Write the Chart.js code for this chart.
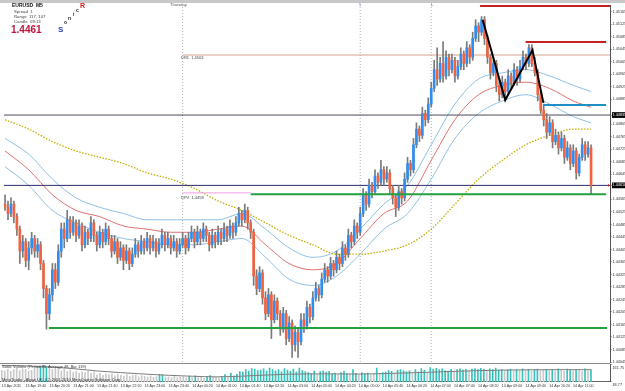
<!DOCTYPE html>
<html><head><meta charset="utf-8">
<script src="https://cdn.jsdelivr.net/npm/chart.js@4/dist/chart.umd.min.js"></script>
<style>
html,body{margin:0;padding:0;background:#fff;}
#wrap{position:relative;width:625px;height:391px;overflow:hidden;font-family:"Liberation Sans",Arial,sans-serif;background:#fff;}
.c{position:absolute;left:0;}
.t{position:absolute;white-space:nowrap;line-height:1;color:#333;}
</style></head><body>
<div id="wrap">
<div class="c" style="top:361px;width:625px;height:30px"><canvas id="vol" width="625" height="30"></canvas></div>
<div class="c" style="top:0;width:625px;height:366px"><canvas id="main" width="625" height="366"></canvas></div>
<div style="position:absolute;left:0;top:0;width:625px;height:3px;background:#c8c8c8"></div>
<div style="position:absolute;left:0;top:363px;width:610px;height:1px;background:#8a8a8a"></div>
<div style="position:absolute;left:0;top:3px;width:97px;height:38px;background:#fff"></div>
<div class="t" style="left:12px;top:3px;font-size:5px;font-weight:bold;color:#111">EURUSD&nbsp;&nbsp;M5</div>
<div class="t" style="left:14px;top:10px;font-size:4.3px;color:#444">Spread&nbsp;&nbsp;1</div>
<div class="t" style="left:14px;top:15px;font-size:4.3px;color:#444">Range&nbsp;&nbsp;117, 107</div>
<div class="t" style="left:14px;top:20px;font-size:4.3px;color:#444">Candle&nbsp;&nbsp;09:13</div>
<div class="t" style="left:11px;top:25px;font-size:10px;font-weight:bold;color:#c0143c">1.4461</div>
<div class="t" style="left:58px;top:26px;font-size:8px;font-weight:bold;color:#2a3fb8">S</div>
<div class="t" style="left:64px;top:20px;font-size:5px;font-weight:bold;color:#222">o</div>
<div class="t" style="left:68px;top:16px;font-size:5px;font-weight:bold;color:#222">n</div>
<div class="t" style="left:73px;top:12px;font-size:5px;font-weight:bold;color:#222">i</div>
<div class="t" style="left:76px;top:8px;font-size:5px;font-weight:bold;color:#222">c</div>
<div class="t" style="left:80px;top:2px;font-size:7px;font-weight:bold;color:#d82020">R</div>
<div class="t" style="left:170px;top:3px;font-size:4px;color:#555">Thursday</div>
<div class="t" style="left:359px;top:3px;font-size:4px;color:#7050a0">5</div>
<div class="t" style="left:431px;top:3px;font-size:4px;color:#333">L</div>
<div class="t" style="left:181px;top:56px;font-size:4px;color:#444">DR1&nbsp;&nbsp;1.4503</div>
<div class="t" style="left:181px;top:196px;font-size:4px;color:#444">DPV&nbsp;&nbsp;1.4458</div>
<div class="t" style="left:2px;top:365px;font-size:4px;color:#333">Sonic Volume (Period 20, Average 48, Bar 139)</div>
<div class="t" style="left:2px;top:378px;font-size:4px;color:#333">MetaTrader - Alpari UK, (C) 2001-2010 MetaQuotes Software Corp.</div>
</div>
<script>
// ---- data ----
const tickLabels = ['13 Apr 2011','13 Apr 19:40','13 Apr 20:20','13 Apr 21:00','13 Apr 21:40','13 Apr 22:20','13 Apr 23:00','13 Apr 23:40','14 Apr 00:20','14 Apr 01:00','14 Apr 01:40','14 Apr 02:20','14 Apr 03:00','14 Apr 03:40','14 Apr 04:20','14 Apr 05:00','14 Apr 05:40','14 Apr 06:20','14 Apr 07:00','14 Apr 07:40','14 Apr 08:20','14 Apr 09:00','14 Apr 09:40','14 Apr 10:20','14 Apr 11:00'];
const priceTicks = [1.45165,1.45125,1.45085,1.45045,1.45005,1.44965,1.44925,1.44885,1.44805,1.44765,1.44725,1.44685,1.44645,1.44565,1.44525,1.44485,1.44445,1.44405,1.44365,1.44325,1.44285,1.44245,1.44205,1.44165,1.44125,1.44085,1.44045];
const markedPrices = [1.44835, 1.44610];

const open = [
1.4455,1.4454,1.4452,1.4455,1.4451,1.4447,1.4440,1.4443,
1.4437,1.4441,1.4444,1.4440,1.4442,1.4436,1.4428,1.4420,
1.4426,1.4434,1.4430,1.4440,1.4447,1.4444,1.4450,1.4446,
1.4449,1.4445,1.4448,1.4442,1.4446,1.4444,1.4449,1.4445,
1.4442,1.4446,1.4443,1.4447,1.4444,1.4440,1.4443,1.4438,
1.4441,1.4437,1.4440,1.4436,1.4439,1.4442,1.4440,1.4443,
1.4441,1.4444,1.4441,1.4443,1.4440,1.4442,1.4445,1.4442,
1.4444,1.4441,1.4443,1.4440,1.4442,1.4444,1.4441,1.4444,
1.4446,1.4443,1.4446,1.4444,1.4447,1.4445,1.4442,1.4445,
1.4443,1.4446,1.4444,1.4447,1.4445,1.4448,1.4446,1.4449,
1.4452,1.4450,1.4453,1.4449,1.4446,1.4432,1.4428,1.4433,
1.4425,1.4420,1.4426,1.4418,1.4424,1.4420,1.4415,1.4420,
1.4412,1.4417,1.4410,1.4414,1.4411,1.4418,1.4416,1.4422,
1.4419,1.4425,1.4428,1.4426,1.4431,1.4434,1.4432,1.4436,
1.4434,1.4438,1.4436,1.4441,1.4439,1.4445,1.4443,1.4448,
1.4446,1.4452,1.4458,1.4455,1.4461,1.4459,1.4464,1.4462,
1.4466,1.4463,1.4465,1.4460,1.4457,1.4454,1.4459,1.4457,
1.4463,1.4468,1.4466,1.4474,1.4479,1.4477,1.4484,1.4482,
1.4487,1.4492,1.4498,1.4495,1.4500,1.4496,1.4502,1.4498,
1.4501,1.4496,1.4499,1.4503,1.4500,1.4505,1.4502,1.4508,
1.4512,1.4510,1.4514,1.4508,1.4502,1.4497,1.4500,1.4493,
1.4490,1.4494,1.4491,1.4496,1.4494,1.4498,1.4495,1.4499,
1.4502,1.4500,1.4505,1.4500,1.4497,1.4490,1.4485,1.4482,
1.4478,1.4481,1.4475,1.4477,1.4473,1.4476,1.4470,1.4473,
1.4468,1.4472,1.4465,1.4470,1.4474,1.4471,1.4473];
const high = [
1.4458,1.4456,1.4457,1.4456,1.4452,1.4448,1.4445,1.4444,
1.4443,1.4446,1.4445,1.4444,1.4443,1.4437,1.4429,1.4428,
1.4436,1.4436,1.4442,1.4449,1.4449,1.4453,1.4451,1.4451,
1.4450,1.4450,1.4449,1.4448,1.4447,1.4451,1.4450,1.4446,
1.4448,1.4447,1.4449,1.4448,1.4445,1.4445,1.4444,1.4443,
1.4442,1.4442,1.4441,1.4441,1.4444,1.4443,1.4445,1.4444,
1.4446,1.4445,1.4445,1.4444,1.4444,1.4447,1.4446,1.4446,
1.4445,1.4445,1.4444,1.4444,1.4446,1.4445,1.4446,1.4448,
1.4447,1.4448,1.4447,1.4449,1.4448,1.4446,1.4447,1.4446,
1.4448,1.4447,1.4449,1.4448,1.4450,1.4449,1.4451,1.4454,
1.4453,1.4455,1.4454,1.4450,1.4447,1.4434,1.4435,1.4434,
1.4427,1.4428,1.4427,1.4426,1.4425,1.4421,1.4422,1.4421,
1.4419,1.4418,1.4416,1.4415,1.4420,1.4420,1.4424,1.4423,
1.4427,1.4430,1.4429,1.4433,1.4436,1.4435,1.4438,1.4437,
1.4440,1.4439,1.4443,1.4442,1.4447,1.4446,1.4450,1.4449,
1.4454,1.4460,1.4459,1.4463,1.4462,1.4466,1.4465,1.4469,
1.4467,1.4467,1.4466,1.4461,1.4458,1.4461,1.4460,1.4465,
1.4470,1.4469,1.4476,1.4481,1.4480,1.4486,1.4485,1.4489,
1.4494,1.4501,1.4505,1.4502,1.4507,1.4504,1.4503,1.4503,
1.4502,1.4501,1.4505,1.4504,1.4507,1.4506,1.4510,1.4514,
1.4513,1.4515,1.4515,1.4509,1.4503,1.4502,1.4501,1.4495,
1.4496,1.4495,1.4498,1.4497,1.4500,1.4499,1.4501,1.4504,
1.4503,1.4506,1.4506,1.4502,1.4498,1.4491,1.4487,1.4484,
1.4483,1.4482,1.4479,1.4478,1.4478,1.4477,1.4475,1.4474,
1.4474,1.4473,1.4471,1.4476,1.4475,1.4475,1.4474];
const low = [
1.4453,1.4450,1.4451,1.4449,1.4445,1.4436,1.4438,1.4435,
1.4434,1.4439,1.4438,1.4438,1.4434,1.4425,1.4415,1.4418,
1.4424,1.4428,1.4429,1.4438,1.4441,1.4443,1.4444,1.4445,
1.4443,1.4444,1.4440,1.4441,1.4442,1.4443,1.4443,1.4440,
1.4441,1.4441,1.4442,1.4442,1.4438,1.4439,1.4436,1.4437,
1.4434,1.4436,1.4434,1.4435,1.4438,1.4438,1.4439,1.4439,
1.4440,1.4439,1.4440,1.4438,1.4439,1.4441,1.4440,1.4441,
1.4439,1.4440,1.4438,1.4439,1.4441,1.4439,1.4440,1.4443,
1.4441,1.4442,1.4442,1.4443,1.4443,1.4440,1.4441,1.4441,
1.4442,1.4442,1.4443,1.4443,1.4444,1.4444,1.4445,1.4448,
1.4448,1.4449,1.4447,1.4444,1.4429,1.4426,1.4427,1.4423,
1.4418,1.4419,1.4412,1.4417,1.4418,1.4413,1.4414,1.4410,
1.4411,1.4406,1.4408,1.4406,1.4410,1.4414,1.4415,1.4417,
1.4418,1.4424,1.4424,1.4425,1.4430,1.4430,1.4431,1.4432,
1.4433,1.4434,1.4435,1.4437,1.4438,1.4441,1.4442,1.4444,
1.4445,1.4451,1.4453,1.4454,1.4457,1.4458,1.4460,1.4461,
1.4461,1.4462,1.4458,1.4455,1.4451,1.4453,1.4455,1.4456,
1.4462,1.4464,1.4465,1.4473,1.4475,1.4476,1.4480,1.4481,
1.4486,1.4491,1.4493,1.4494,1.4494,1.4495,1.4496,1.4497,
1.4494,1.4495,1.4498,1.4498,1.4499,1.4500,1.4501,1.4507,
1.4507,1.4509,1.4506,1.4500,1.4495,1.4496,1.4491,1.4488,
1.4489,1.4488,1.4490,1.4492,1.4493,1.4493,1.4494,1.4498,
1.4498,1.4499,1.4499,1.4496,1.4488,1.4484,1.4480,1.4476,
1.4477,1.4473,1.4474,1.4471,1.4472,1.4468,1.4469,1.4466,
1.4467,1.4463,1.4464,1.4469,1.4469,1.4470,1.4458];
const close = [
1.4454,1.4452,1.4455,1.4451,1.4447,1.4440,1.4443,1.4437,
1.4441,1.4444,1.4440,1.4442,1.4436,1.4428,1.4420,1.4426,
1.4434,1.4430,1.4440,1.4447,1.4444,1.4450,1.4446,1.4449,
1.4445,1.4448,1.4442,1.4446,1.4444,1.4449,1.4445,1.4442,
1.4446,1.4443,1.4447,1.4444,1.4440,1.4443,1.4438,1.4441,
1.4437,1.4440,1.4436,1.4439,1.4442,1.4440,1.4443,1.4441,
1.4444,1.4441,1.4443,1.4440,1.4442,1.4445,1.4442,1.4444,
1.4441,1.4443,1.4440,1.4442,1.4444,1.4441,1.4444,1.4446,
1.4443,1.4446,1.4444,1.4447,1.4445,1.4442,1.4445,1.4443,
1.4446,1.4444,1.4447,1.4445,1.4448,1.4446,1.4449,1.4452,
1.4450,1.4453,1.4449,1.4446,1.4432,1.4428,1.4433,1.4425,
1.4420,1.4426,1.4418,1.4424,1.4420,1.4415,1.4420,1.4412,
1.4417,1.4410,1.4414,1.4411,1.4418,1.4416,1.4422,1.4419,
1.4425,1.4428,1.4426,1.4431,1.4434,1.4432,1.4436,1.4434,
1.4438,1.4436,1.4441,1.4439,1.4445,1.4443,1.4448,1.4446,
1.4452,1.4458,1.4455,1.4461,1.4459,1.4464,1.4462,1.4466,
1.4463,1.4465,1.4460,1.4457,1.4454,1.4459,1.4457,1.4463,
1.4468,1.4466,1.4474,1.4479,1.4477,1.4484,1.4482,1.4487,
1.4492,1.4498,1.4495,1.4500,1.4496,1.4502,1.4498,1.4501,
1.4496,1.4499,1.4503,1.4500,1.4505,1.4502,1.4508,1.4512,
1.4510,1.4514,1.4508,1.4502,1.4497,1.4500,1.4493,1.4490,
1.4494,1.4491,1.4496,1.4494,1.4498,1.4495,1.4499,1.4502,
1.4500,1.4505,1.4500,1.4497,1.4490,1.4485,1.4482,1.4478,
1.4481,1.4475,1.4477,1.4473,1.4476,1.4470,1.4473,1.4468,
1.4472,1.4465,1.4470,1.4474,1.4471,1.4473,1.4461];

// moving averages read at every 8th bar
const maIdx = [0,8,16,24,32,40,48,56,64,72,80,88,96,104,112,120,128,136,144,152,160,168,176,184,192,198];
const maSlow = [1.4482,1.4479,1.4475,1.4472,1.4470,1.4468,1.4465,1.4463,1.4460,1.4456,1.4453,1.4449,1.4445,1.4442,1.4439,1.4439,1.4440,1.4442,1.4447,1.4455,1.4463,1.4469,1.4474,1.4477,1.4479,1.4479];
const maMid = [1.4472,1.4466,1.4458,1.4453,1.4451,1.4448,1.4447,1.4446,1.4446,1.4447,1.4448,1.4442,1.4436,1.4434,1.4436,1.4444,1.4452,1.4456,1.4469,1.4482,1.4490,1.4493,1.4494,1.4492,1.4488,1.4486];
const maUpper = [1.4476,1.4471,1.4463,1.4457,1.4454,1.4452,1.4450,1.4450,1.4450,1.4450,1.4452,1.4447,1.4441,1.4438,1.4440,1.4447,1.4455,1.4461,1.4474,1.4487,1.4495,1.4497,1.4498,1.4496,1.4493,1.4491];
const maLower = [1.4467,1.4461,1.4453,1.4449,1.4446,1.4444,1.4443,1.4442,1.4442,1.4443,1.4444,1.4438,1.4431,1.4429,1.4432,1.4439,1.4447,1.4452,1.4463,1.4476,1.4484,1.4488,1.4490,1.4487,1.4483,1.4481];

// horizontal levels: price, from bar, to bar
const levelPrice = [1.45184, 1.45069, 1.45027, 1.44867, 1.44835, 1.44610, 1.44586, 1.44582, 1.44154];
const levelFrom  = [160.5, 175.9, 60, 181.9, -0.35, -0.35, 60, 83, 14.8];
const levelTo    = [204.4, 203.1, 204.4, 203.1, 204.4, 204.4, 83, 203.1, 203.4];
const levelStyle = ['red','red','dr1','teal','gray','navy','dpv','green','green'];

// zigzag
const zigIdx = [161.4, 169.0, 178.2, 181.9];
const zigPrice = [1.45139, 1.44883, 1.45043, 1.44874];

// period separators (bar index)
const sepIdx = [60, 120, 144];

// volume
const volume = [
123,120,130,117,127,136,122,133, 129,118,123,135,140,149,155,146,
142,130,144,136,120,131,116,125, 110,117,105,113,108,116,104,112,
94,103,91,99,95,101,88,97, 91,86,95,84,89,93,81,90,
84,80,88,78,82,97,94,79, 81,76,84,74,79,82,75,86,
77,88,74,80,72,82,89,78, 80,75,85,95,81,106,86,97,
115,112,128,118,134,131,121,125, 133,118,138,128,120,127,114,134,
125,116,131,112,138,121,115,108, 102,118,97,115,120,112,116,101,
105,96,108,116,102,99,128,103, 96,108,102,105,94,101,138,102,
108,112,121,116,103,125,127,120, 115,119,102,128,112,134,123,108,
141,131,136,127,133,121,118,129, 115,128,133,125,129,120,131,134,
127,136,131,121,133,128,138,125, 129,120,127,131,118,128,121,133,
125,129,116,128,131,120,127,130, 121,129,118,133,127,116,131,128,
120,129,125,116,133,121,128];
const volAvg = [155,152,145,134,119,108,99,91,85,81,85,92,98,100,100,99,102,106,111,116,121,124,126,127,127,127];
const volTicks = [161.75, 48.77];

// ---- rendering ----
const FAM = '"Liberation Sans", Arial, sans-serif';
const X_MIN = -0.35, X_MAX = 204.4, Y_MIN = 1.44045, Y_MAX = 1.45187;
const styles = {
  red:{c:'#c42222',w:2}, dr1:{c:'#d9a08f',w:1}, teal:{c:'#1f8fc4',w:2}, gray:{c:'#4a4a5a',w:1},
  navy:{c:'#2c2c6c',w:1}, dpv:{c:'#ee9ee6',w:1}, green:{c:'#25a040',w:2}
};
const bull = '#2f8ef0', bear = '#f2623e';

const ds = [];
function maSet(vals, color, dash, width){
  return {type:'line', data: maIdx.map((x,k)=>({x, y: vals[k]})), borderColor: color, borderWidth: width,
    borderDash: dash, pointRadius: 0, cubicInterpolationMode: 'monotone', order: 9};
}
ds.push(maSet(maSlow, '#c3ad00', [1.5,1.5], 1.3));
ds.push(maSet(maUpper, '#8fbfe8', [], 1));
ds.push(maSet(maMid, '#e07070', [], 1));
ds.push(maSet(maLower, '#8fbfe8', [], 1));
sepIdx.forEach(x => ds.push({type:'line', data:[{x, y:Y_MIN},{x, y:Y_MAX}], borderColor:'#b0b0b0', borderWidth:1, borderDash:[1,2], pointRadius:0, order:10}));
ds.push({type:'bar', data: open.map((o,i)=>({x:i, y:[low[i], high[i]]})), backgroundColor:'#7a7a7a', barThickness:1, grouped:false, order:5});
ds.push({type:'bar', data: open.map((o,i)=>({x:i, y:[o, close[i]]})),
  backgroundColor: ctx => close[ctx.dataIndex] >= open[ctx.dataIndex] ? bull : bear,
  barThickness:2, grouped:false, minBarLength:1, order:4});
levelPrice.forEach((p,k) => {
  const s = styles[levelStyle[k]];
  ds.push({type:'line', data:[{x:levelFrom[k], y:p},{x:levelTo[k], y:p}], borderColor:s.c, borderWidth:s.w, pointRadius:0, order: s.w>1 ? 2 : 6});
});
ds.push({type:'line', data: zigIdx.map((x,k)=>({x, y:zigPrice[k]})), borderColor:'#000', borderWidth:2, pointRadius:0, order:1});
ds.push({type:'line', data:[{x:X_MAX-0.6, y:1.44610}], showLine:false, pointStyle:'triangle', rotation:-90, pointRadius:1.6, backgroundColor:'#d02020', borderWidth:0, order:0});

new Chart(document.getElementById('main'), {
  data: {datasets: ds},
  options: {
    responsive:false, animation:false, events:[],
    layout:{padding:{top:5, bottom:4, left:0, right:0}},
    plugins:{legend:{display:false}, tooltip:{enabled:false}},
    scales:{
      x:{type:'linear', min:X_MIN, max:X_MAX, offset:false, display:false},
      y:{type:'linear', position:'right', min:Y_MIN, max:Y_MAX,
        afterBuildTicks: s => { s.ticks = priceTicks.concat(markedPrices).map(v=>({value:v})); },
        afterFit: s => { s.width = 15; },
        grid:{drawOnChartArea:false, drawTicks:true, tickLength:1.5, color:'#555'},
        border:{display:true, color:'#555'},
        ticks:{font:{size:3.8, family:FAM}, padding:1,
          color: ctx => markedPrices.includes(ctx.tick.value) ? '#fff' : '#333',
          showLabelBackdrop: ctx => markedPrices.includes(ctx.tick.value),
          backdropColor: ctx => markedPrices.includes(ctx.tick.value) ? '#000' : 'rgba(0,0,0,0)',
          backdropPadding:{top:0.6,bottom:0.6,left:0.5,right:3},
          callback: v => Number(v).toFixed(5)}
      }
    }
  }
});

const avgAt = i => volAvg[Math.min(Math.round(i/8), volAvg.length-1)];
new Chart(document.getElementById('vol'), {
  data:{datasets:[
    {type:'bar', data: volume.map((v,i)=>({x:i, y:v})), backgroundColor: ctx => volume[ctx.dataIndex] > avgAt(ctx.dataIndex) ? '#36c2bb' : '#c9c9c9', barThickness:1, order:2},
    {type:'line', data: maIdx.map((x,k)=>({x, y:volAvg[k]})), borderColor:'#7e7e7e', borderWidth:1, pointRadius:0, cubicInterpolationMode:'monotone', order:1}
  ]},
  options:{
    responsive:false, animation:false, events:[],
    layout:{padding:{top:0, bottom:1.2, left:0, right:0}},
    plugins:{legend:{display:false}, tooltip:{enabled:false}},
    scales:{
      x:{type:'linear', min:X_MIN, max:X_MAX, offset:false,
        afterBuildTicks: s => { s.ticks = tickLabels.map((_,k)=>({value:k*8})); },
        grid:{drawOnChartArea:false, drawTicks:false},
        border:{display:true, color:'#666'},
        ticks:{font:{size:3.6, family:FAM}, color:'#333', padding:1.8, align:'start', maxRotation:0, autoSkip:false,
          callback:(v,i)=>tickLabels[i]}
      },
      y:{type:'linear', position:'right', min:volTicks[1], max:volTicks[0],
        afterBuildTicks: s => { s.ticks = volTicks.map(v=>({value:v})); },
        afterFit: s => { s.width = 15; },
        grid:{drawOnChartArea:false, drawTicks:true, tickLength:1.5, color:'#555'},
        border:{display:true, color:'#555'},
        ticks:{font:{size:3.8, family:FAM}, color:'#333', padding:1, labelOffset:3.5, callback:v=>Number(v).toFixed(2)}
      }
    }
  }
});
</script>
</body></html>
